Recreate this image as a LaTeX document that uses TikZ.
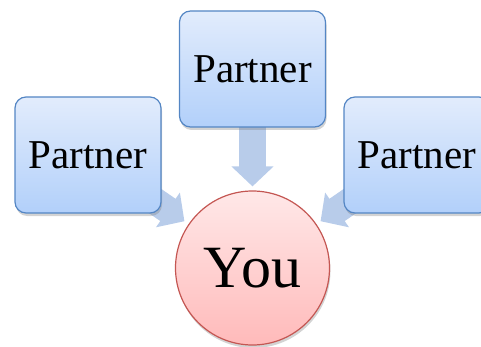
\documentclass[tikz,border=0pt]{standalone}
\usepackage{fontspec}
\setmainfont{Liberation Serif}
\usetikzlibrary{arrows.meta,shadows,backgrounds}
\definecolor{boxtop}{RGB}{226,236,252}
\definecolor{boxbot}{RGB}{178,208,250}
\definecolor{boxline}{RGB}{84,134,196}
\definecolor{youtop}{RGB}{255,232,232}
\definecolor{youbot}{RGB}{255,186,186}
\definecolor{youline}{RGB}{196,86,82}
\definecolor{arrowcol}{RGB}{184,204,234}
\tikzset{
  partnerbox/.style={draw=boxline, line width=1.2pt, rounded corners=11pt,
    top color=boxtop, bottom color=boxbot, minimum width=146pt, minimum height=116pt,
    inner sep=0pt, font=\fontsize{41}{41}\selectfont,
    drop shadow={shadow xshift=1pt, shadow yshift=-3pt, opacity=0.35}},
  youcircle/.style={circle, draw=youline, line width=1.2pt,
    top color=youtop, bottom color=youbot, minimum size=154pt, inner sep=0pt,
    font=\fontsize{60}{60}\selectfont,
    drop shadow={shadow xshift=1pt, shadow yshift=-3pt, opacity=0.35}},
  blockarrow/.style={draw=arrowcol, line width=27pt,
    -{Triangle[width=41pt,length=20pt]}}
}
\begin{document}
\begin{tikzpicture}[x=1pt,y=-1pt]
\useasboundingbox (0,0) rectangle (481,347);
\node[partnerbox] (pl) at (88,155) {Partner};
\node[partnerbox] (pt) at (252.5,69) {Partner};
\node[partnerbox] (pr) at (417,155) {Partner};
\node[youcircle] (you) at (252.5,268) {You};
\begin{scope}[on background layer]
\draw[blockarrow, shorten >=4pt] (pt.center) -- (you);
\draw[blockarrow, shorten >=5pt] (pl.center) -- (you);
\draw[blockarrow, shorten >=5pt] (pr.center) -- (you);
\end{scope}
\end{tikzpicture}
\end{document}
